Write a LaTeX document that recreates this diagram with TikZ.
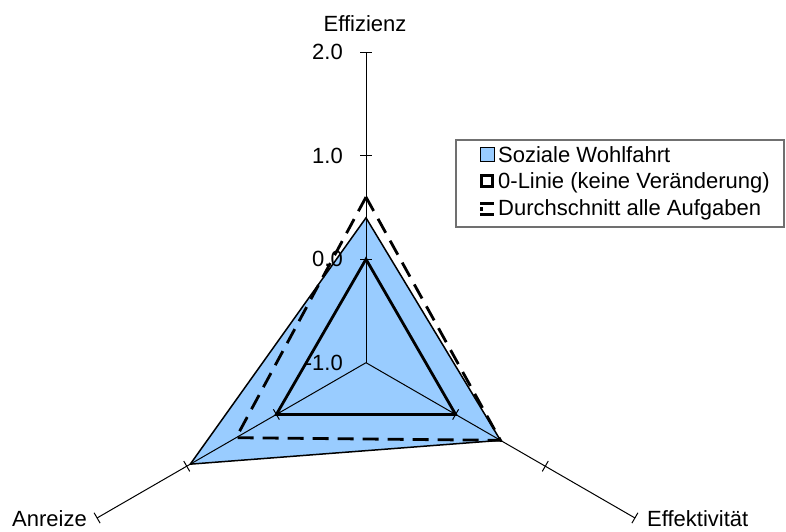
\documentclass[tikz,border=0pt]{standalone}
\usepackage{fontspec}
\setmainfont{Liberation Sans}
\usetikzlibrary{calc}
\definecolor{wohl}{HTML}{99CCFF}
\definecolor{legframe}{HTML}{707070}
\tikzset{
  spoke/.style={line width=1pt, black},
  tickmark/.style={line width=1pt, black},
  zeroline/.style={line width=2.8pt, black, line join=miter},
  avgline/.style={line width=2.8pt, black, dash pattern=on 16pt off 9pt, line join=miter},
  wohlarea/.style={fill=wohl, draw=black, line width=1.5pt, line join=miter},
  ticklabel/.style={anchor=east, inner sep=0pt},
  axislabel/.style={inner sep=0pt},
  legtext/.style={anchor=base west, inner sep=0pt}
}
\begin{document}
\begin{tikzpicture}[x=1pt,y=1pt,font=\fontsize{22}{26}\selectfont]
\useasboundingbox (0,0) rectangle (786,-532);
\coordinate (C) at (366,-362.7);
\begin{scope}[shift={(C)}]
  % axes end points
  \coordinate (T) at (90:310.5);
  \coordinate (L) at (210:310.5);
  \coordinate (R) at (330:310.5);
  % Soziale Wohlfahrt
  \coordinate (wT) at (90:144.9);
  \coordinate (wL) at (210:202.9);
  \coordinate (wR) at (330:155.3);
  % Durchschnitt
  \coordinate (dT) at (90:165.6);
  \coordinate (dL) at (210:150);
  \coordinate (dR) at (330:155.3);
  % 0-Linie
  \coordinate (zT) at (90:103.5);
  \coordinate (zL) at (210:103.5);
  \coordinate (zR) at (330:103.5);
  \draw[wohlarea] (wT) -- (wL) -- (wR) -- cycle;
  \draw[spoke] (C) -- (T);
  \draw[spoke] (C) -- (L);
  \draw[spoke] (C) -- (R);
  \foreach \r in {103.5,207,310.5}{
    \draw[tickmark] ($(90:\r)+(180:6)$) -- ($(90:\r)+(0:6)$);
    \draw[tickmark] ($(210:\r)+(120:6)$) -- ($(210:\r)+(300:6)$);
    \draw[tickmark] ($(330:\r)+(60:6)$) -- ($(330:\r)+(240:6)$);
  }
\end{scope}
% tick labels
\node[ticklabel] (l2) at (343,-52.3) {2.0};
\node[ticklabel] (l1) at (343,-156) {1.0};
\node[ticklabel] (l0) at (343,-259.3) {0.0};
\node[ticklabel] (lm1) at (343,-362.7) {-1.0};
% series lines
\draw[zeroline] (zT) -- (zL) -- (zR) -- cycle;
\draw[avgline] (dT) -- (dL) -- (dR) -- cycle;
% axis labels
\node[axislabel, anchor=base] (eff) at (365,-32) {Effizienz};
\node[axislabel, anchor=base west] (anr) at (12,-526) {Anreize};
\node[axislabel, anchor=base west] (efk) at (647,-526) {Effektivität};
% legend
\draw[legframe, line width=1.2pt] (456,-140) rectangle (784,-227);
\draw[fill=wohl, draw=black, line width=0.8pt] (480,-147.5) rectangle (494,-161.5);
\draw[black, line width=2.8pt] (481.4,-175.4) rectangle (492.6,-186.6);
\draw[black, line width=3pt] (480,-203.5) -- (494,-203.5);
\draw[black, line width=3pt] (480,-214) -- (494,-214);
\draw[black, line width=3pt] (481.5,-207) -- (481.5,-210.5);
\node[legtext] (t1) at (498,-162) {Soziale Wohlfahrt};
\node[legtext] (t2) at (498,-188.5) {0-Linie (keine Veränderung)};
\node[legtext] (t3) at (498,-215.5) {Durchschnitt alle Aufgaben};
\end{tikzpicture}
\end{document}
